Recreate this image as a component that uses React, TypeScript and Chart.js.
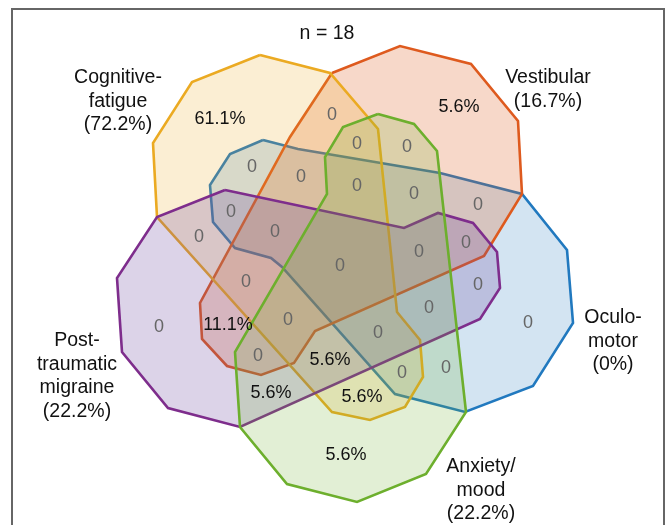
import React, { useEffect, useRef } from "react";
import { Chart, registerables } from "chart.js";

Chart.register(...registerables);

type Pt = [number, number];

// Set outlines (diagram coordinates, y grows downward)
const cognitiveFatigue: Pt[] = [[260,55],[330,73],[378,129],[397,312],[420,340],[423,377],[405,407],[370,420],[332,412],[157,217],[153,143],[192,82]];
const vestibular: Pt[] = [[332,73],[400,46],[471,64],[518,121],[522,194],[484,256],[315,331],[294,363],[261,375],[227,366],[202,339],[200,303],[290,137]];
const oculomotor: Pt[] = [[263,140],[298,149],[440,173],[522,194],[567,250],[573,323],[533,386],[465,412],[395,394],[282,267],[271,258],[235,248],[213,222],[210,185],[230,154]];
const ptMigraine: Pt[] = [[225,190],[404,228],[438,213],[473,223],[497,252],[500,288],[480,319],[240,427],[168,408],[122,352],[117,278],[157,217]];
const anxietyMood: Pt[] = [[378,114],[414,124],[437,151],[466,412],[426,474],[357,502],[287,484],[240,427],[235,352],[327,194],[325,157],[343,127]];

// Region values
const regionValues: string[] = [
  "61.1%","5.6%","0","0","0","0","0","0","0","0","0","0","0","0","0","0","0","0",
  "0","11.1%","0","0","0","0","0","5.6%","0","0","5.6%","5.6%","5.6%",
];
const regionAnchors: Pt[] = [
  [220,119],[459,107],[332,115],[357,144],[407,147],[252,167],[301,177],[357,186],[414,194],[478,205],
  [231,212],[199,237],[275,232],[466,243],[419,252],[340,266],[246,282],[478,285],
  [159,327],[228,325],[288,320],[429,308],[528,323],[378,333],[258,356],[330,360],[402,373],[446,368],
  [271,393],[362,397],[346,455],
];

// Set labels
const setLabels: string[][] = [
  ["Cognitive-","fatigue","(72.2%)"],
  ["Vestibular","(16.7%)"],
  ["Oculo-","motor","(0%)"],
  ["Post-","traumatic","migraine","(22.2%)"],
  ["Anxiety/","mood","(22.2%)"],
];
const setLabelAnchors: Pt[] = [[118,78],[548,78],[613,318],[77,341],[481,467]];
const titleText = "n = 18";
const titleAnchor: Pt = [327,34];

const FONT = '"Liberation Sans", Arial, Helvetica, sans-serif';

function closed(pts: Pt[]) {
  const d = pts.map(([x, y]) => ({ x, y }));
  d.push({ x: pts[0][0], y: pts[0][1] });
  return d;
}

function poly(label: string, pts: Pt[], stroke: string, fill: string) {
  return {
    label,
    data: closed(pts),
    showLine: true,
    fill: "shape" as any,
    borderColor: stroke,
    backgroundColor: fill,
    borderWidth: 2.6,
    borderJoinStyle: "miter" as const,
    pointRadius: 0,
    pointHoverRadius: 0,
    tension: 0,
    clip: false as any,
  };
}

const textPlugin = {
  id: "vennText",
  beforeDatasetsDraw(chart: any) {
    const { ctx, scales } = chart;
    const xs = scales.x, ys = scales.y;
    ctx.save();
    ctx.strokeStyle = "#666";
    ctx.lineWidth = 2;
    ctx.beginPath();
    ctx.moveTo(xs.getPixelForValue(664), ys.getPixelForValue(560));
    ctx.lineTo(xs.getPixelForValue(664), ys.getPixelForValue(9));
    ctx.lineTo(xs.getPixelForValue(12), ys.getPixelForValue(9));
    ctx.lineTo(xs.getPixelForValue(12), ys.getPixelForValue(560));
    ctx.stroke();
    ctx.restore();
  },
  afterDatasetsDraw(chart: any) {
    const { ctx, scales } = chart;
    const xs = scales.x, ys = scales.y;
    ctx.save();
    ctx.textAlign = "center";
    ctx.textBaseline = "middle";
    regionValues.forEach((v, i) => {
      const [x, y] = regionAnchors[i];
      ctx.font = `18px ${FONT}`;
      ctx.fillStyle = v === "0" ? "#666666" : "#111111";
      ctx.fillText(v, xs.getPixelForValue(x), ys.getPixelForValue(y));
    });
    ctx.fillStyle = "#111111";
    ctx.font = `19.5px ${FONT}`;
    setLabels.forEach((lines, i) => {
      const [x, y] = setLabelAnchors[i];
      lines.forEach((line, j) => {
        ctx.fillText(line, xs.getPixelForValue(x), ys.getPixelForValue(y + j * 23.5));
      });
    });
    ctx.fillText(titleText, xs.getPixelForValue(titleAnchor[0]), ys.getPixelForValue(titleAnchor[1]));
    ctx.restore();
  },
};

export default function App() {
  const ref = useRef<HTMLCanvasElement | null>(null);
  useEffect(() => {
    if (!ref.current) return;
    const chart = new Chart(ref.current, {
      type: "scatter",
      data: {
        datasets: [
          poly("Anxiety/mood", anxietyMood, "#6DAF2D", "rgba(109,175,45,0.2)"),
          poly("Post-traumatic migraine", ptMigraine, "#7E2D8C", "rgba(110,70,160,0.24)"),
          poly("Cognitive-fatigue", cognitiveFatigue, "#EBAA22", "rgba(235,170,34,0.2)"),
          poly("Vestibular", vestibular, "#DE5A1E", "rgba(222,90,30,0.24)"),
          poly("Oculomotor", oculomotor, "#2179BF", "rgba(33,121,191,0.2)"),
        ] as any,
      },
      options: {
        animation: false,
        responsive: false,
        layout: { padding: 0, autoPadding: false } as any,
        plugins: { legend: { display: false }, tooltip: { enabled: false } },
        events: [],
        scales: {
          x: { type: "linear", min: 0, max: 668, display: false },
          y: { type: "linear", min: 0, max: 525, reverse: true, display: false },
        },
      },
      plugins: [textPlugin],
    });
    return () => chart.destroy();
  }, []);
  return (
    <div style={{ position: "absolute", left: 0, top: 0, width: 668, height: 525, background: "#fff" }}>
      <canvas ref={ref} width={668} height={525} style={{ display: "block" }} />
    </div>
  );
}
